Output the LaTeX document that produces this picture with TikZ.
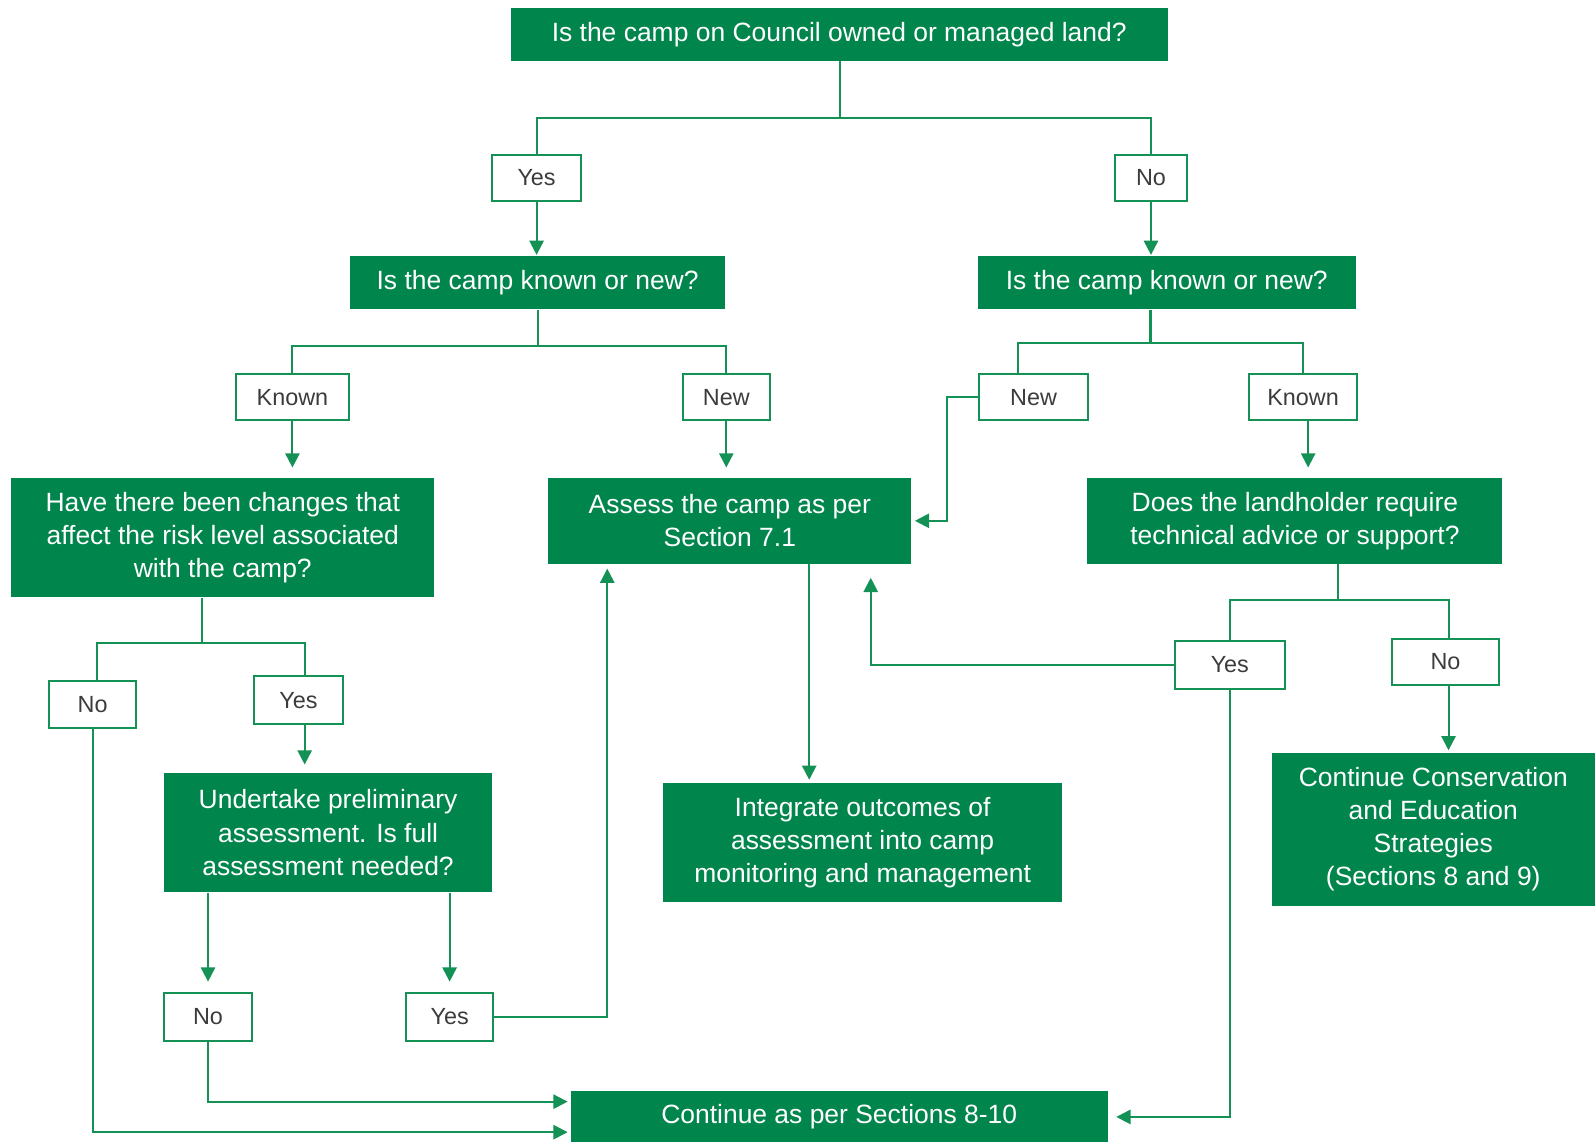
\documentclass[tikz,border=0pt]{standalone}
\usepackage{fontspec}
\setmainfont{Liberation Sans}
\usetikzlibrary{arrows.meta}

\definecolor{boxgreen}{RGB}{0,133,76}
\definecolor{linegreen}{RGB}{20,145,85}
\definecolor{labelgray}{RGB}{60,60,60}

\tikzset{
  qbox/.style={fill=boxgreen, text=white, align=center, inner sep=0pt,
    font=\fontsize{13}{16.25}\selectfont},
  lbl/.style={draw=linegreen, line width=1pt, fill=white, text=labelgray,
    inner sep=0pt, font=\fontsize{11.5}{14}\selectfont},
  link/.style={linegreen, line width=1pt},
  arr/.style={link, -{Triangle[width=7pt,length=7pt]}},
}

\begin{document}
\begin{tikzpicture}[x=0.5pt, y=-0.5pt]
  \useasboundingbox (0,0) rectangle (1568,1123);

  % Top question
  \node[qbox, minimum width=323pt, minimum height=26pt] (q1) at (825,34)
    {Is the camp on Council owned or managed land?};
  \node[lbl, minimum width=43.5pt, minimum height=23pt] (yes1) at (527.5,175) {Yes};
  \node[lbl, minimum width=35.5pt, minimum height=23pt] (no1) at (1131.5,175) {No};

  % Known or new
  \node[qbox, minimum width=184.5pt, minimum height=26pt] (q2l) at (528.5,278)
    {Is the camp known or new?};
  \node[qbox, minimum width=186pt, minimum height=26pt] (q2r) at (1147,278)
    {Is the camp known or new?};
  \node[lbl, minimum width=55.5pt, minimum height=22.5pt] (known1) at (287.5,390.5) {Known};
  \node[lbl, minimum width=43pt, minimum height=22.5pt] (new1) at (714,390.5) {New};
  \node[lbl, minimum width=54pt, minimum height=22.5pt] (new2) at (1016,390.5) {New};
  \node[lbl, minimum width=53pt, minimum height=22.5pt] (known2) at (1281,390.5) {Known};

  % Second level boxes
  \node[qbox, minimum width=208pt, minimum height=58.5pt] (have) at (219,528.5)
    {Have there been changes that\\affect the risk level associated\\with the camp?};
  \node[qbox, minimum width=178.5pt, minimum height=42pt] (assess) at (717.5,512)
    {Assess the camp as per\\Section 7.1};
  \node[qbox, minimum width=204pt, minimum height=42pt] (does) at (1273,512)
    {Does the landholder require\\technical advice or support?};

  % Answers below
  \node[lbl, minimum width=43pt, minimum height=23.5pt] (no3) at (91,692.5) {No};
  \node[lbl, minimum width=43.5pt, minimum height=23.5pt] (yes3) at (293.5,688.5) {Yes};
  \node[lbl, minimum width=54pt, minimum height=23.5pt] (yes5) at (1209,653.5) {Yes};
  \node[lbl, minimum width=53pt, minimum height=22.5pt] (no5) at (1421,650.5) {No};

  \node[qbox, minimum width=161.5pt, minimum height=58.5pt] (under) at (322.5,818.5)
    {Undertake preliminary\\assessment. Is full\\assessment needed?};
  \node[qbox, minimum width=196pt, minimum height=58.5pt] (integ) at (848,828.5)
    {Integrate outcomes of\\assessment into camp\\monitoring and management};
  \node[qbox, minimum width=159pt, minimum height=75.5pt] (cce) at (1409,815.5)
    {Continue Conservation\\and Education\\Strategies\\(Sections 8 and 9)};

  \node[lbl, minimum width=43.5pt, minimum height=23.5pt] (no4) at (204.5,999.5) {No};
  \node[lbl, minimum width=43pt, minimum height=23.5pt] (yes4) at (442,999.5) {Yes};

  \node[qbox, minimum width=264pt, minimum height=25pt] (cont) at (825,1098)
    {Continue as per Sections 8-10};

  % Branch points
  \coordinate (b1) at (826,116);
  \coordinate (b2) at (529,340);
  \coordinate (b3) at (1131,337);
  \coordinate (b4) at (199,632);
  \coordinate (b5) at (1315,590);
  \coordinate (k1) at (931,390.5);
  \coordinate (k2) at (856,554);
  \coordinate (k3) at (597,554);
  \coordinate (k4) at (561,1113);
  \coordinate (k5) at (561,1083);

  % Tree lines
  \draw[link] (q1.south -| b1) -- (b1);
  \draw[link] (yes1.north) |- (b1) -| (no1.north);
  \draw[link] (q2l.south -| b2) -- (b2);
  \draw[link] (known1.north) |- (b2) -| (new1.north);
  \draw[link] (q2r.south -| b3) -- (b3);
  \draw[link] ([xshift=-7.5pt]new2.north) |- (b3) -| (known2.north);
  \draw[link] (have.south -| b4) -- (b4);
  \draw[link] ([xshift=2pt]no3.north) |- (b4) -| ([xshift=3pt]yes3.north);
  \draw[link] (does.south -| b5) -- (b5);
  \draw[link] (yes5.north) |- (b5) -| ([xshift=1.5pt]no5.north);

  % Arrows down
  \draw[arr, shorten >=0.5pt] (yes1.south) -- (yes1.south |- q2l.north);
  \draw[arr, shorten >=0.5pt] (no1.south) -- (no1.south |- q2r.north);
  \draw[arr, shorten >=5pt] (known1.south) -- (known1.south |- have.north);
  \draw[arr, shorten >=5pt] (new1.south) -- (new1.south |- assess.north);
  \draw[arr, shorten >=5pt] ([xshift=2.5pt]known2.south) -- ([xshift=2.5pt]known2.south |- does.north);
  \draw[arr, shorten >=4pt] ([xshift=3pt]yes3.south) -- ([xshift=3pt]yes3.south |- under.north);
  \draw[arr, shorten >=5pt] (no4.north |- under.south) -- (no4.north);
  \draw[arr, shorten >=5pt] (yes4.north |- under.south) -- (yes4.north);
  \draw[arr, shorten >=1.5pt] ([xshift=39pt]assess.south) -- ([xshift=39pt]assess.south |- integ.north);
  \draw[arr, shorten >=1pt] ([xshift=1.5pt]no5.south) -- ([xshift=1.5pt]no5.south |- cce.north);

  % Loops back
  \draw[arr, shorten >=1.5pt] (new2.west) -- (k1) |- (assess.east);
  \draw[arr, shorten >=7pt] (yes5.west) -| (k2);
  \draw[arr, shorten >=2.5pt] (yes4.east) -| (k3);

  % To continue
  \draw[arr, shorten >=1.5pt] (no3.south) |- (k4);
  \draw[arr, shorten >=1.5pt] (no4.south) |- (k5);
  \draw[arr, shorten >=4pt] (yes5.south) |- (cont.east);
\end{tikzpicture}
\end{document}
